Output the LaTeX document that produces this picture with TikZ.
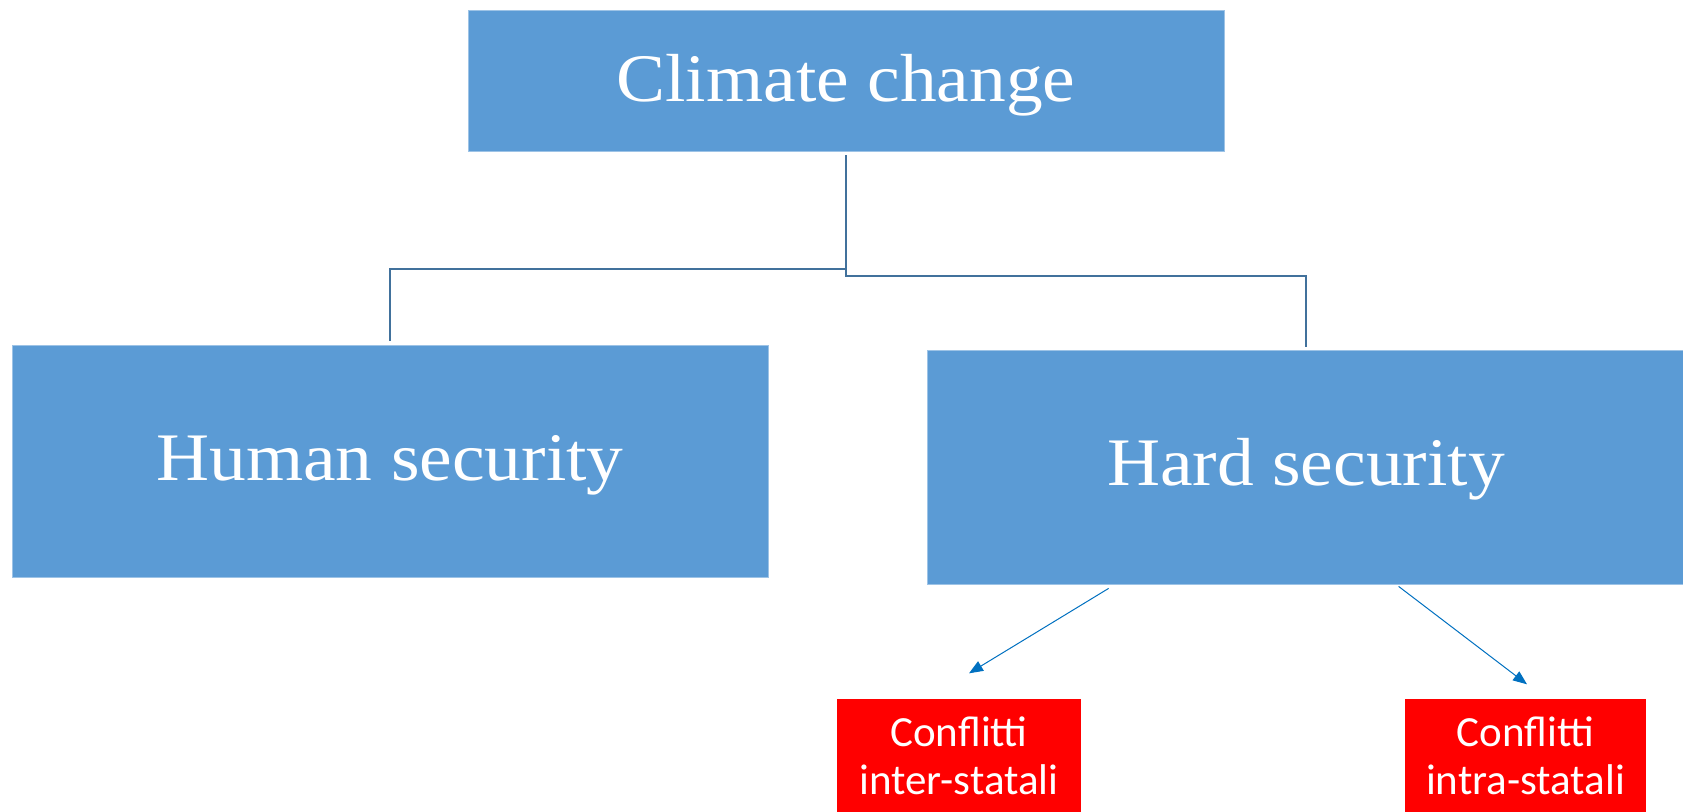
\documentclass[tikz,border=0pt]{standalone}
\usepackage{fontspec}
\usetikzlibrary{calc,arrows.meta}
\newfontfamily\titlefont{Liberation Serif}
\newfontfamily\labelfont{Carlito}
\definecolor{boxblue}{HTML}{5B9BD5}
\definecolor{edgeblue}{HTML}{9DC3E6}
\definecolor{treeline}{HTML}{41719C}
\definecolor{arrowblue}{HTML}{0070C0}
% wide serif caption used in the blue boxes
\newcommand{\wide}[1]{\scalebox{1.08}[1]{#1}}
\tikzset{
  bigbox/.style={rectangle, fill=boxblue, draw=edgeblue, line width=0.8pt,
    text=white, font=\titlefont\fontsize{68}{74}\selectfont, inner sep=0pt,
    text depth=0pt},
  redbox/.style={rectangle, fill=red, draw=none, text=white, align=center,
    font=\labelfont\fontsize{43}{48}\selectfont, inner sep=0pt,
    minimum height=114pt},
  tree/.style={draw=treeline, line width=2pt},
  arr/.style={draw=arrowblue, line width=1pt,
    -{Triangle[length=14pt,width=11pt]}}
}
\begin{document}
\begin{tikzpicture}[x=1pt,y=-1pt]
\useasboundingbox (0,0) rectangle (1683,811);
% boxes
\node[bigbox, minimum width=756pt, minimum height=141pt, text height=41pt] (climate) at (846,80.5) {\wide{Climate change}};
\node[bigbox, minimum width=756pt, minimum height=232pt, text height=38pt] (human) at (390,461) {\wide{Human security}};
\node[bigbox, minimum width=758pt, minimum height=234pt, text height=36pt] (hard) at (1306,467) {\wide{Hard security}};
\node[redbox, minimum width=244pt] (inter) at (959,755.5) {Conflitti\\inter-statali};
\node[redbox, minimum width=241pt] (intra) at (1525.5,755.5) {Conflitti\\intra-statali};
% elbow connectors
\draw[tree] ($(climate.south)+(0,4)$) |- ($(human.north)+(0,-76)$) -- ($(human.north)+(0,-4)$);
\draw[tree] ($(climate.south)+(0,4)$) |- ($(hard.north)+(0,-74)$) -- ($(hard.north)+(0,-3)$);
% arrows to the conflict boxes
\draw[arr] ($(hard.south west)+(182,4)$) -- ($(inter.north)+(10,-25)$);
\draw[arr] ($(hard.south west)+(472,2)$) -- ($(intra.north)+(1.5,-14)$);
\end{tikzpicture}
\end{document}
